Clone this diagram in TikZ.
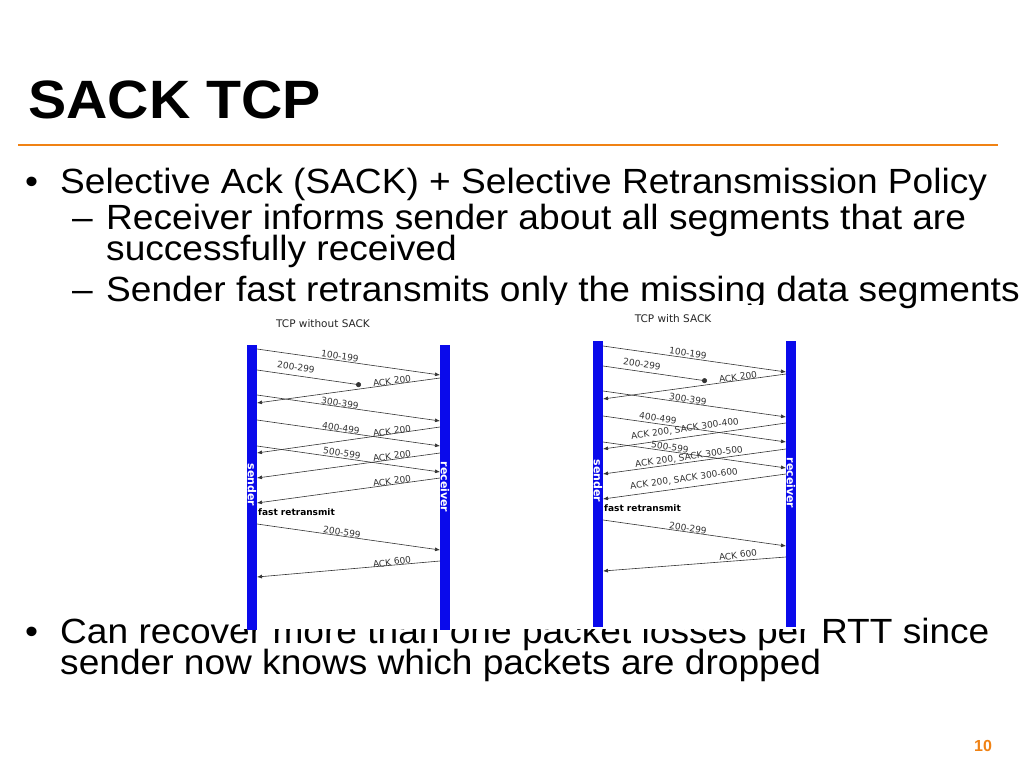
\documentclass[tikz,border=0pt]{standalone}
\usepackage{fontspec}
\setmainfont{Liberation Sans}
\newfontfamily\slidefont[FakeStretch=1.06]{Liberation Sans}
\newfontfamily\diagfont{DejaVu Sans}
\usetikzlibrary{arrows.meta}
\definecolor{slideorange}{RGB}{240,130,20}
\definecolor{barblue}{RGB}{10,10,235}
\tikzset{
    bar/.style={fill=barblue, draw=none},
    barlabel/.style={text=white, font=\diagfont\bfseries\fontsize{11}{11}\selectfont, rotate=-90},
    msg/.style={-{Latex[length=5pt,width=4pt]}, draw=black!80, line width=0.6pt},
    lost/.style={-{Circle[length=5pt]}, draw=black!80, line width=0.6pt},
    down/.style={font=\diagfont\fontsize{9}{9}\selectfont, text=black!80, rotate=-8, inner sep=1pt},
    up/.style={font=\diagfont\fontsize{9}{9}\selectfont, text=black!80, rotate=8, inner sep=1pt},
    caption/.style={font=\diagfont\fontsize{10.5}{11}\selectfont, text=black!85},
    bodytext/.style={font=\slidefont\fontsize{35}{35}\selectfont, anchor=base west, inner sep=0pt},
}
\begin{document}
\begin{tikzpicture}[x=1pt, y=-1pt]
    \useasboundingbox[fill=white] (0,0) rectangle (1024,768);
    % slide title and text
    \node[anchor=base west, inner sep=0pt, font=\slidefont\bfseries\fontsize{54}{54}\selectfont] (title) at (28,118) {SACK TCP};
    \draw[slideorange, line width=2.5pt] (18,145) -- (998,145);
    \node[bodytext] (b1) at (25,193) {•};
    \node[bodytext] (t1) at (60,193) {Selective Ack (SACK) + Selective Retransmission Policy};
    \node[bodytext] (d1) at (72,229) {–};
    \node[bodytext] (t2) at (106,229) {Receiver informs sender about all segments that are};
    \node[bodytext] (t3) at (106,260) {successfully received};
    \node[bodytext] (d2) at (72,301) {–};
    \node[bodytext] (t4) at (106,301) {Sender fast retransmits only the missing data segments};
    \node[bodytext] (b2) at (25,643) {•};
    \node[bodytext] (t5) at (60,643) {Can recover more than one packet losses per RTT since};
    \node[bodytext] (t6) at (60,674) {sender now knows which packets are dropped};
    \node[font=\bfseries\fontsize{16}{16}\selectfont, text=slideorange] (page) at (983,746) {10};
    % picture area
    \fill[white] (240,305) rectangle (818,629);
    % TCP without SACK
    \node[caption] (capL) at (323,324) {TCP without SACK};
    \fill[bar] (247,345) rectangle (257,630);
    \fill[bar] (440,345) rectangle (450,630);
    \node[barlabel] (sndL) at (252,485) {sender};
    \node[barlabel] (rcvL) at (445,487) {receiver};
    \draw[msg] (257,349) -- (440,375);
    \node[down] (l100L) at (340,356) {100-199};
    \draw[lost] (257,370) -- (361,385);
    \node[down] (l200L) at (296,367) {200-299};
    \draw[msg] (440,378) -- (257,403);
    \node[up] (a1L) at (392,381) {ACK 200};
    \draw[msg] (257,395) -- (440,421);
    \node[down] (l300L) at (340,403) {300-399};
    \draw[msg] (257,420) -- (440,446);
    \node[down] (l400L) at (341,428) {400-499};
    \draw[msg] (440,427) -- (257,453);
    \node[up] (a2L) at (392,431) {ACK 200};
    \draw[msg] (257,446) -- (440,472);
    \node[down] (l500L) at (342,453) {500-599};
    \draw[msg] (440,453) -- (257,478);
    \node[up] (a3L) at (392,456) {ACK 200};
    \draw[msg] (440,478) -- (257,503);
    \node[up] (a4L) at (392,481) {ACK 200};
    \node[font=\diagfont\bfseries\fontsize{9}{9}\selectfont, anchor=west, inner sep=0pt] (frL) at (258,512) {fast retransmit};
    \draw[msg] (257,524) -- (440,550);
    \node[down] (l600L) at (342,532) {200-599};
    \draw[msg] (440,561) -- (257,577);
    \node[up] (a5L) at (392,562) {ACK 600};
    % TCP with SACK
    \node[caption] (capR) at (673,319) {TCP with SACK};
    \fill[bar] (593,341) rectangle (603,627);
    \fill[bar] (786,341) rectangle (796,627);
    \node[barlabel] (sndR) at (598,481) {sender};
    \node[barlabel] (rcvR) at (791,483) {receiver};
    \draw[msg] (603,346) -- (786,372);
    \node[down] (l100R) at (688,353) {100-199};
    \draw[lost] (603,366) -- (707,381);
    \node[down] (l200R) at (642,364) {200-299};
    \draw[msg] (786,374) -- (603,399);
    \node[up] (a1R) at (738,377) {ACK 200};
    \draw[msg] (603,391) -- (786,417);
    \node[down] (l300R) at (688,399) {300-399};
    \draw[msg] (603,416) -- (786,442);
    \node[down] (l400R) at (658,418) {400-499};
    \draw[msg] (786,423) -- (603,449);
    \node[up] (a2R) at (685,429) {ACK 200, SACK 300-400};
    \draw[msg] (603,442) -- (786,468);
    \node[down] (l500R) at (670,447) {500-599};
    \draw[msg] (786,449) -- (603,474);
    \node[up] (a3R) at (689,457) {ACK 200, SACK 300-500};
    \draw[msg] (786,474) -- (603,499);
    \node[up] (a4R) at (684,479) {ACK 200, SACK 300-600};
    \node[font=\diagfont\bfseries\fontsize{9}{9}\selectfont, anchor=west, inner sep=0pt] (frR) at (604,508) {fast retransmit};
    \draw[msg] (603,520) -- (786,546);
    \node[down] (l600R) at (688,528) {200-299};
    \draw[msg] (786,557) -- (603,571);
    \node[up] (a5R) at (738,555) {ACK 600};
\end{tikzpicture}
\end{document}
